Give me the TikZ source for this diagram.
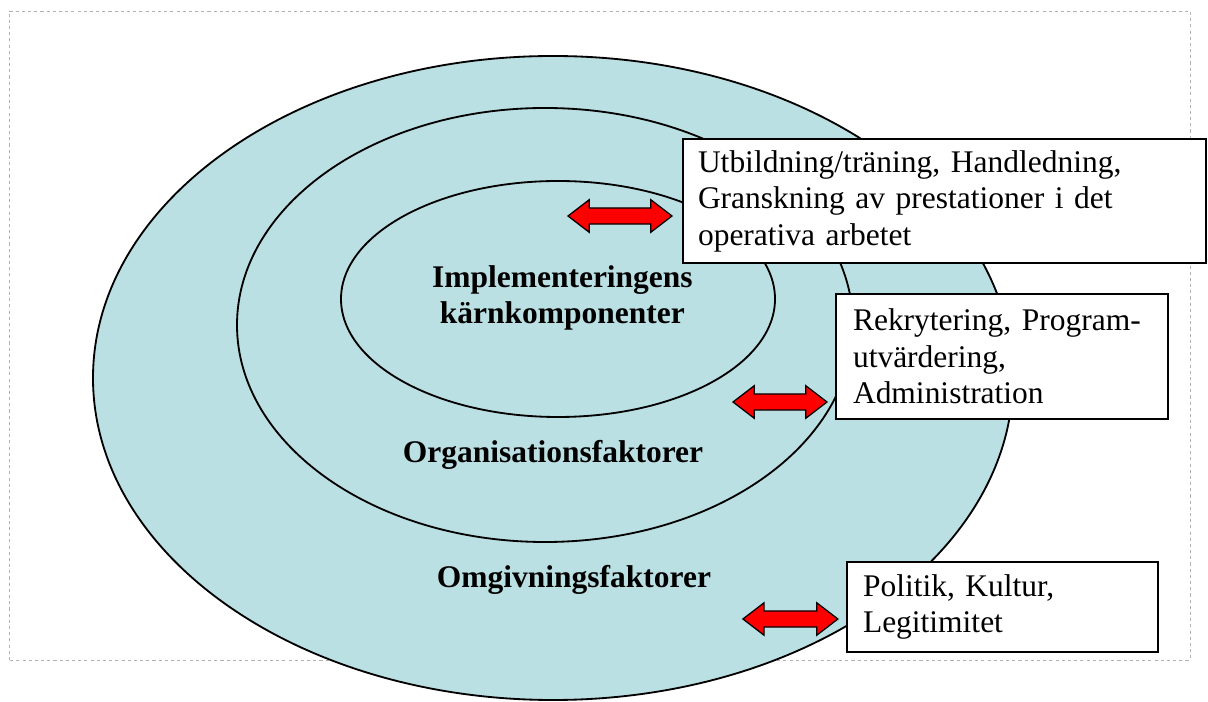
\documentclass[tikz,border=0pt]{standalone}
\usepackage{fontspec}
\setmainfont{Liberation Serif}
\usetikzlibrary{shapes,shapes.arrows,positioning}
\definecolor{ringblue}{RGB}{187,224,227}
\newcommand{\diafont}{\fontsize{22.4pt}{26pt}\selectfont}

\begin{document}
\begin{tikzpicture}[
    ring/.style={draw=black, fill=ringblue, line width=1.3pt},
    infobox/.style={draw=black, fill=white, line width=1.3pt, align=left, inner ysep=0pt, font=\diafont},
    ringlabel/.style={font=\diafont\bfseries, align=center, inner sep=0pt},
    dblarrow/.style={double arrow, draw=black, fill=red, line width=0.9pt, inner xsep=0pt, inner ysep=0.185cm, double arrow head extend=0.205cm, double arrow tip angle=75, double arrow head indent=0pt}
]
    \useasboundingbox (0,0) rectangle (30.2,17.525);

    % Frame
    \draw [gray!60, line width=0.6pt, dash pattern=on 2.2pt off 2.2pt] (0.225,1.025) rectangle (29.75,17.25);

    % Rings, outer to inner
    \foreach \cx/\cy/\rx/\ry in {13.825/8.075/11.5/8.05, 13.625/9.4/7.7/5.425, 13.95/10.05/5.425/2.95}
        \draw [ring] (\cx,\cy) ellipse [x radius=\rx, y radius=\ry];

    % Ring labels
    \node [ringlabel] (core) at (14.06,10.075) {Implementeringens\\kärnkomponenter};
    \node [ringlabel, anchor=base] (org) at (13.825,5.95) {Organisationsfaktorer};
    \node [ringlabel, anchor=base] (env) at (14.35,2.825) {Omgivningsfaktorer};

    % Boxes
    \node [infobox, text width=12.325cm, minimum height=3.1cm, inner xsep=0.375cm] (training) at (23.6125,12.5) {Utbildning/träning, Handledning,\\Granskning av prestationer i det\\operativa arbetet};
    \node [infobox, text width=7.45cm, minimum height=3.125cm, inner xsep=0.425cm] (admin) at (25.05,8.6125) {Rekrytering, Program-\\utvärdering,\\Administration};
    \node [infobox, text width=6.975cm, minimum height=2.25cm, inner xsep=0.4cm] (culture) at (25.0625,2.35) {Politik, Kultur,\\Legitimitet};

    % Arrows
    \node [dblarrow, minimum height=2.6cm] (arrowcore) at (15.5,12.125) {};
    \node [dblarrow, minimum height=2.35cm] (arroworg) at (19.5,7.475) {};
    \node [dblarrow, minimum height=2.375cm] (arrowenv) at (19.76,2.05) {};
\end{tikzpicture}
\end{document}
